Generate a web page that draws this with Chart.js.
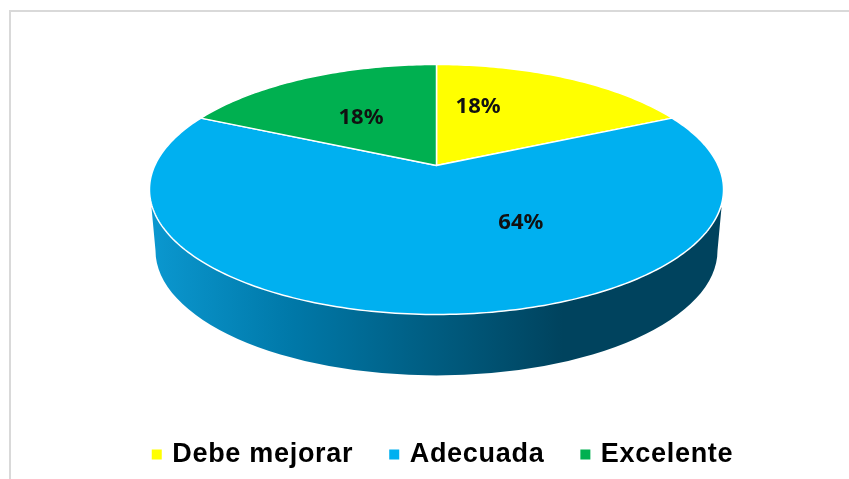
<!DOCTYPE html>
<html>
<head>
<meta charset="utf-8">
<title>Pie</title>
<script src="https://cdn.jsdelivr.net/npm/chart.js@4/dist/chart.umd.min.js"></script>
<style>
  html, body { margin: 0; padding: 0; background: #fff; overflow: hidden; }
  #frame { position: absolute; left: 9px; top: 10px; width: 840px; height: 469px; border-left: 2px solid #d9d9d9; border-top: 2px solid #d9d9d9; box-sizing: border-box; pointer-events: none; }
  #myPieChart { display: block; }
</style>
</head>
<body>
<canvas id="myPieChart" width="849" height="479"></canvas>
<div id="frame"></div>
<script>
const categories = ['Debe mejorar', 'Adecuada', 'Excelente'];
const seriesValues = [18, 64, 18];
const sliceColors = ['#ffff00', '#00b0f0', '#00b050'];

// perspective of the tilted disc, in radius units
const persp = 0.192;
const spreadX = 0.9815;
const spreadY = 0.4195;
const wallDepth = 61;
const legendSpacing = '0.7px';
// label spot relative to the pie centre, in radius units
const labelSpots = [[0.145, -0.206], [0.294, 0.199], [-0.263, -0.167]];

function rimPoint(arc, angle) {
  const u = Math.cos(angle), v = Math.sin(angle);
  const d = 1 - persp * v;
  return {
    x: arc.x + arc.outerRadius * spreadX * u / d,
    y: arc.y + arc.outerRadius * spreadY * v / d
  };
}

function drawWall(ctx, arc) {
  const r = arc.outerRadius;
  // the projected rim is still an ellipse, just not around the slice centre
  const top = rimPoint(arc, -Math.PI / 2).y;
  const bottom = rimPoint(arc, Math.PI / 2).y;
  const cx = arc.x, cy = (top + bottom) / 2, ry = (bottom - top) / 2;
  const rb = r - 6;

  const wall = ctx.createLinearGradient(cx - r, 0, cx + r, 0);
  wall.addColorStop(0, '#0b98d0');
  wall.addColorStop(0.25, '#0078a8');
  wall.addColorStop(0.5, '#005c80');
  wall.addColorStop(0.72, '#00435e');
  wall.addColorStop(1, '#00435e');

  ctx.fillStyle = wall;
  ctx.beginPath();
  ctx.moveTo(cx - r + 2, cy + 18);
  ctx.lineTo(cx - rb, cy + wallDepth);
  ctx.ellipse(cx, cy + wallDepth, rb, ry, 0, Math.PI, 0, true);
  ctx.lineTo(cx + r - 2, cy + 18);
  ctx.closePath();
  ctx.fill();
}

function drawSlice(ctx, arc) {
  const step = Math.PI / 180;
  ctx.beginPath();
  ctx.moveTo(arc.x, arc.y);
  for (let a = arc.startAngle; a < arc.endAngle; a += step) {
    const p = rimPoint(arc, a);
    ctx.lineTo(p.x, p.y);
  }
  const last = rimPoint(arc, arc.endAngle);
  ctx.lineTo(last.x, last.y);
  ctx.closePath();
  ctx.fillStyle = arc.options.backgroundColor;
  ctx.fill();
  ctx.lineWidth = arc.options.borderWidth;
  ctx.strokeStyle = arc.options.borderColor;
  ctx.lineJoin = 'round';
  ctx.stroke();
}

const pie3d = {
  id: 'pie3d',
  beforeLayout(chart) {
    // legend text is wider than plain Arial bold, canvas resets this on resize
    chart.ctx.letterSpacing = legendSpacing;
  },
  beforeDraw(chart) {
    chart.ctx.letterSpacing = legendSpacing;
  },
  afterLayout(chart) {
    // legend sits lower and further right than its box would allow
    chart.legend.top += 71;
    chart.legend.bottom += 71;
    chart.legend.left += 7.5;
    chart.legend.right += 7.5;
  },
  beforeDatasetDraw(chart) {
    const ctx = chart.ctx;
    const arcs = chart.getDatasetMeta(0).data;
    ctx.save();
    drawWall(ctx, arcs[1]);
    arcs.forEach(arc => drawSlice(ctx, arc));

    ctx.letterSpacing = '0px';
    ctx.font = 'bold 22px "Noto Sans"';
    ctx.fillStyle = '#111';
    ctx.textAlign = 'center';
    ctx.textBaseline = 'middle';
    arcs.forEach((arc, i) => {
      const txt = seriesValues[i] + '%';
      ctx.fillText(txt, arc.x + labelSpots[i][0] * arc.outerRadius, arc.y + labelSpots[i][1] * arc.outerRadius);
    });
    ctx.restore();
    // slices are done above, skip the flat ones
    return false;
  }
};

const ctx = document.getElementById('myPieChart').getContext('2d');
const myPieChart = new Chart(ctx, {
  type: 'pie',
  data: {
    labels: categories,
    datasets: [{
      data: seriesValues,
      backgroundColor: sliceColors,
      borderColor: '#ffffff',
      borderWidth: 1.5,
      radius: 287,
      clip: false
    }]
  },
  options: {
    responsive: false,
    animation: false,
    layout: { padding: { left: 24, right: 0, top: 0, bottom: 72 } },
    plugins: {
      tooltip: { enabled: false },
      legend: {
        position: 'bottom',
        labels: {
          boxWidth: 4,
          boxHeight: 4,
          padding: 39,
          color: '#1a1a1a',
          font: { family: '"Liberation Sans"', size: 27, weight: 'bold' },
          generateLabels(chart) {
            return categories.map((name, i) => ({
              text: name,
              fillStyle: sliceColors[i],
              strokeStyle: sliceColors[i],
              lineWidth: 6,
              index: i
            }));
          }
        }
      }
    }
  },
  plugins: [pie3d]
});
</script>
</body>
</html>
